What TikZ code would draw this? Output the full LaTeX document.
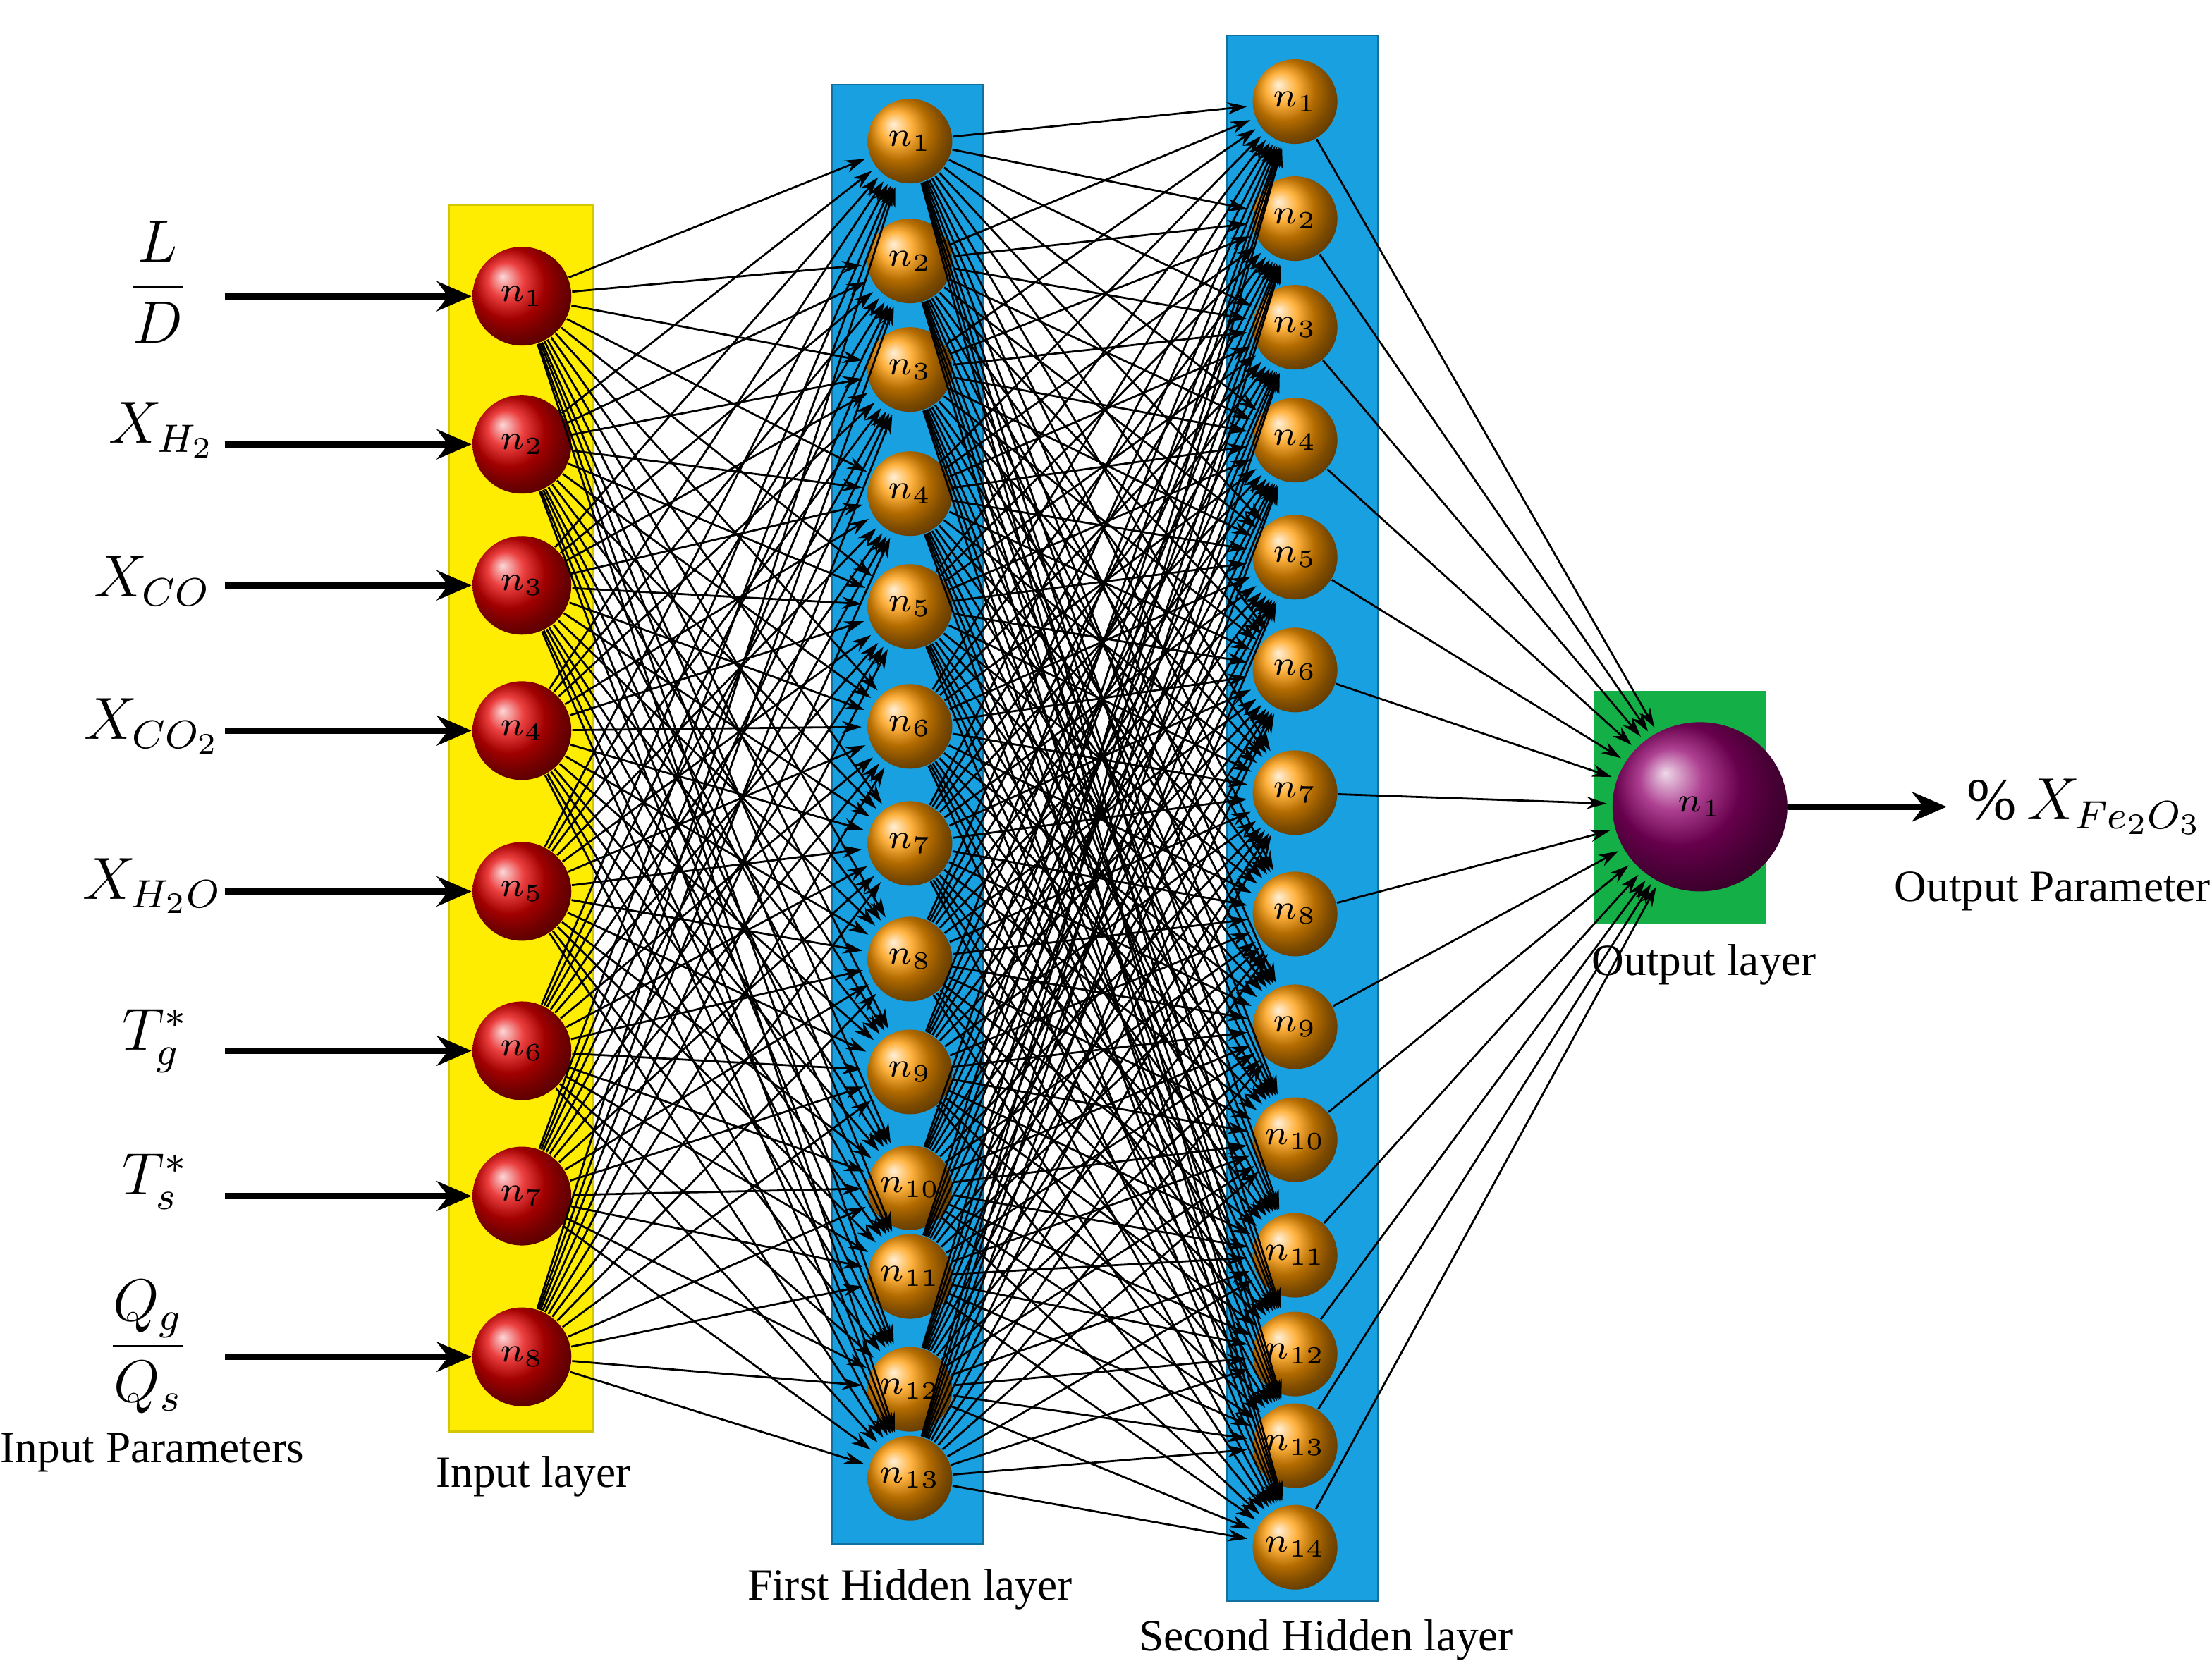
\documentclass[tikz,border=0pt]{standalone}
\usepackage{amsmath}
\usepackage{fontspec}
\setmainfont{Liberation Serif}
\usetikzlibrary{arrows.meta,shapes.geometric}

\definecolor{bandblue}{RGB}{25,160,225}
\definecolor{bandgreen}{RGB}{20,175,70}

\begin{document}
\begin{tikzpicture}[x=0.1mm, y=-0.1mm, >=Stealth]
    \tikzset{
        inneuron/.style={circle, minimum size=7mm, inner sep=0pt,
            ball color=red!90!black, font=\scriptsize},
        hidneuron/.style={circle, minimum size=6mm, inner sep=0pt,
            ball color=orange!80!yellow, font=\scriptsize},
        link/.style={->, thin, shorten >=1pt, >={Stealth[length=4pt,width=2.5pt]}},
        feed/.style={->, line width=1.3pt, >={Stealth[length=7pt,width=6pt]}},
        param/.style={font=\large},
        layerlabel/.style={font=\small}
    }
    \useasboundingbox (0,0) rectangle (1568,1191);

    % layer bands
    \fill[yellow!95!orange, draw=yellow!60!olive] (318,145) rectangle (420,1015);
    \fill[bandblue, draw=bandblue!70!black] (590,60) rectangle (697,1095);
    \fill[bandblue, draw=bandblue!70!black] (870,25) rectangle (977,1135);
    \fill[bandgreen] (1130,490) rectangle (1252,655);

    % input layer
    \foreach \y [count=\i] in {210,315,415,518,632,745,848,962}
        \node[inneuron] (a\i) at (370,\y) {$n_{\i}$};

    % first hidden layer
    \foreach \y [count=\i] in {100,185,262,350,430,515,598,680,760,842,905,985,1048}
        \node[hidneuron] (b\i) at (645,\y) {$n_{\i}$};

    % second hidden layer
    \foreach \y [count=\i] in {72,155,232,312,395,475,562,648,728,808,890,960,1025,1097}
        \node[hidneuron] (c\i) at (918,\y) {$n_{\i}$};

    % output layer
    \node[ellipse, minimum width=12.4mm, minimum height=12mm, inner sep=0pt,
        ball color=violet!70!purple, font=\scriptsize] (d1) at (1205,572) {$n_{1}$};

    % connections
    \foreach \i in {1,...,8}
        \foreach \j in {1,...,13}
            \draw[link] (a\i) -- (b\j);
    \foreach \i in {1,...,13}
        \foreach \j in {1,...,14}
            \draw[link] (b\i) -- (c\j);
    \foreach \j in {1,...,14}
        \draw[link] (c\j) -- (d1);

    % inputs
    \node[param] (p1) at (112,200) {$\dfrac{L}{D}$};
    \node[param] (p2) at (115,305) {$X_{H_2}$};
    \node[param] (p3) at (108,412) {$X_{CO}$};
    \node[param] (p4) at (108,515) {$X_{CO_2}$};
    \node[param] (p5) at (108,628) {$X_{H_2O}$};
    \node[param] (p6) at (110,738) {$T_g^*$};
    \node[param] (p7) at (110,838) {$T_s^*$};
    \node[param] (p8) at (105,955) {$\dfrac{Q_g}{Q_s}$};
    \foreach \i in {1,...,8}
        \draw[feed] (a\i.west) ++(-175,0) coordinate (s\i) -- (a\i.west);

    % output
    \coordinate (e1) at (1380,572);
    \draw[feed] (d1) -- (e1);
    \node[param, anchor=west] (res) at (1382,572) {\%\,$X_{Fe_2O_3}$};

    % labels
    \node[layerlabel] at (108,1030) {Input Parameters};
    \node[layerlabel] at (378,1047) {Input layer};
    \node[layerlabel] at (645,1127) {First Hidden layer};
    \node[layerlabel] at (940,1163) {Second Hidden layer};
    \node[layerlabel] at (1208,684) {Output layer};
    \node[layerlabel] at (1455,632) {Output Parameter};
\end{tikzpicture}
\end{document}
